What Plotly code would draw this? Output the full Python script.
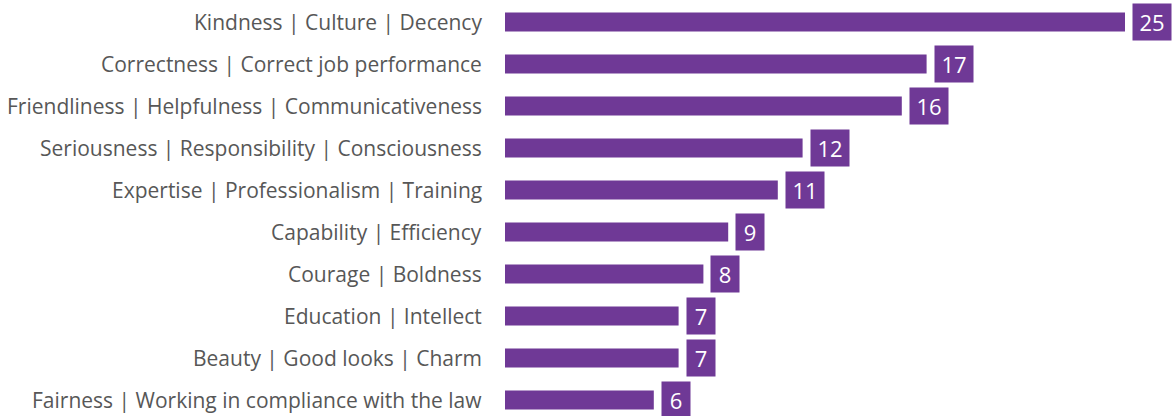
import plotly.graph_objects as go

categories = [
    "Kindness | Culture | Decency",
    "Correctness | Correct job performance",
    "Friendliness | Helpfulness | Communicativeness",
    "Seriousness | Responsibility | Consciousness",
    "Expertise | Professionalism | Training",
    "Capability | Efficiency",
    "Courage | Boldness",
    "Education | Intellect",
    "Beauty | Good looks | Charm",
    "Fairness | Working in compliance with the law",
]
values = [25, 17, 16, 12, 11, 9, 8, 7, 7, 6]

PURPLE = "#6F3996"
W, H = 1173, 416
L = 505
ys = list(range(len(categories)))

fig = go.Figure(go.Bar(
    x=values, y=ys, orientation="h", marker=dict(color=PURPLE, line=dict(width=0)),
    width=0.45, hoverinfo="skip",
))

ann = []
for i, (c, v) in enumerate(zip(categories, values)):
    ann.append(dict(x=0, y=i, xref="x", yref="y", text=c, showarrow=False,
                    xanchor="right", yanchor="middle", xshift=-21,
                    font=dict(family="Open Sans", size=21, color="#575757")))
    s = str(v)
    ann.append(dict(x=v, y=i, xref="x", yref="y", text=s, showarrow=False,
                    xanchor="left", yanchor="middle", xshift=7,
                    bgcolor=PURPLE, borderpad=0, width=18 + 10 * len(s), height=36,
                    font=dict(family="Open Sans", size=22, color="white")))

fig.update_layout(
    width=W, height=H, margin=dict(l=L, r=0, t=0, b=0),
    paper_bgcolor="white", plot_bgcolor="white", showlegend=False,
    xaxis=dict(range=[0, (W - L) / 24.8], visible=False, fixedrange=True),
    yaxis=dict(range=[(H - 22) / 42, -22 / 42], visible=False, fixedrange=True),
    annotations=ann,
)
fig.write_html("out.html", config={"displayModeBar": False},
               post_script="document.body.style.margin='0';document.body.style.overflow='hidden';")
